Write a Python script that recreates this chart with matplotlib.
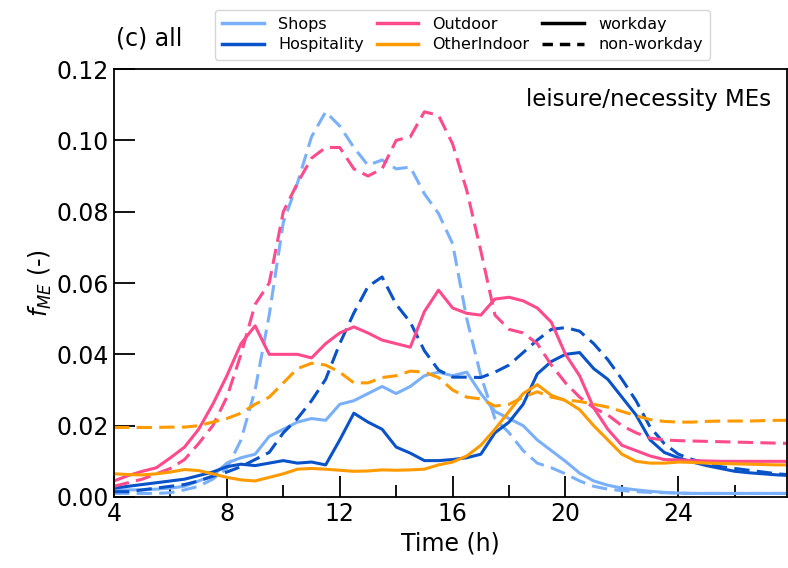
import numpy as np
import matplotlib
matplotlib.use("Agg")
import matplotlib.pyplot as plt
from matplotlib.lines import Line2D
from matplotlib.ticker import MultipleLocator, FormatStrFormatter

# time of day in hours (half-hour steps, 28 = 4 am next day)
time_h = np.arange(4.0, 28.01, 0.5)

shops_workday = [0.002, 0.002, 0.002, 0.0022, 0.0025, 0.003, 0.0045, 0.006, 0.0095, 0.011,
                 0.012, 0.017, 0.019, 0.021, 0.022, 0.0215, 0.026, 0.027, 0.029, 0.031,
                 0.029, 0.031, 0.034, 0.035, 0.034, 0.035, 0.029, 0.024, 0.022, 0.020,
                 0.016, 0.013, 0.010, 0.0067, 0.0045, 0.0033, 0.0025, 0.002, 0.0016, 0.0013,
                 0.0011, 0.001, 0.001, 0.001, 0.001, 0.001, 0.001, 0.001, 0.001]
shops_nonworkday = [0.001, 0.001, 0.001, 0.001, 0.0012, 0.002, 0.003, 0.005, 0.008, 0.016,
                    0.030, 0.051, 0.077, 0.088, 0.101, 0.108, 0.104, 0.098, 0.093, 0.0945,
                    0.092, 0.0925, 0.085, 0.0795, 0.071, 0.050, 0.034, 0.022, 0.018, 0.013,
                    0.0095, 0.0082, 0.0065, 0.0045, 0.003, 0.0022, 0.0018, 0.0015, 0.0013, 0.0012,
                    0.0011, 0.001, 0.001, 0.001, 0.001, 0.001, 0.001, 0.001, 0.001]
hosp_workday = [0.0025, 0.003, 0.0035, 0.004, 0.0045, 0.005, 0.006, 0.007, 0.0085, 0.0092,
                0.0088, 0.0095, 0.0102, 0.0095, 0.0098, 0.009, 0.016, 0.0235, 0.021, 0.019,
                0.014, 0.0123, 0.0102, 0.0102, 0.0105, 0.011, 0.012, 0.018, 0.021, 0.026,
                0.0345, 0.038, 0.040, 0.0405, 0.036, 0.033, 0.028, 0.023, 0.016, 0.0125,
                0.011, 0.0098, 0.0088, 0.008, 0.0072, 0.0068, 0.0065, 0.0062, 0.006]
hosp_nonworkday = [0.0015, 0.0015, 0.002, 0.0025, 0.003, 0.0035, 0.0045, 0.0058, 0.007, 0.0085,
                   0.0105, 0.0125, 0.018, 0.022, 0.027, 0.033, 0.043, 0.0516, 0.059, 0.0617,
                   0.054, 0.049, 0.041, 0.0356, 0.0336, 0.0336, 0.0335, 0.035, 0.037, 0.0405,
                   0.044, 0.047, 0.0475, 0.0465, 0.043, 0.0385, 0.033, 0.027, 0.0196, 0.015,
                   0.012, 0.0105, 0.0095, 0.0085, 0.008, 0.0075, 0.007, 0.0065, 0.0062]
outdoor_workday = [0.0045, 0.006, 0.0072, 0.0082, 0.011, 0.014, 0.019, 0.026, 0.034, 0.043,
                   0.048, 0.040, 0.040, 0.040, 0.039, 0.043, 0.046, 0.0477, 0.046, 0.044,
                   0.043, 0.042, 0.052, 0.058, 0.053, 0.0515, 0.051, 0.0555, 0.056, 0.055,
                   0.053, 0.049, 0.040, 0.034, 0.025, 0.019, 0.0145, 0.013, 0.0115, 0.0105,
                   0.0104, 0.0102, 0.0101, 0.010, 0.010, 0.010, 0.010, 0.010, 0.010]
outdoor_nonworkday = [0.003, 0.004, 0.005, 0.0065, 0.008, 0.0105, 0.015, 0.020, 0.028, 0.040,
                      0.054, 0.060, 0.080, 0.088, 0.095, 0.098, 0.098, 0.092, 0.090, 0.092,
                      0.100, 0.101, 0.108, 0.107, 0.099, 0.086, 0.069, 0.051, 0.047, 0.046,
                      0.043, 0.037, 0.032, 0.028, 0.025, 0.023, 0.020, 0.018, 0.0165, 0.016,
                      0.0158, 0.0157, 0.0156, 0.0155, 0.0154, 0.0153, 0.0152, 0.0151, 0.015]
indoor_workday = [0.0065, 0.0063, 0.0062, 0.0065, 0.007, 0.0077, 0.0074, 0.0065, 0.0055, 0.0048,
                  0.0045, 0.0055, 0.0065, 0.0078, 0.008, 0.0078, 0.0075, 0.0072, 0.0073, 0.0076,
                  0.0075, 0.0076, 0.0078, 0.009, 0.0098, 0.0115, 0.0145, 0.019, 0.024, 0.029,
                  0.0315, 0.0285, 0.027, 0.0245, 0.020, 0.016, 0.012, 0.010, 0.0095, 0.0095,
                  0.0098, 0.0097, 0.0095, 0.0094, 0.0093, 0.0092, 0.0091, 0.009, 0.009]
indoor_nonworkday = [0.0195, 0.0195, 0.0195, 0.0195, 0.0196, 0.0196, 0.020, 0.021, 0.022, 0.0235,
                     0.026, 0.028, 0.032, 0.036, 0.0375, 0.037, 0.035, 0.032, 0.032, 0.0335,
                     0.034, 0.0353, 0.035, 0.0335, 0.030, 0.028, 0.0275, 0.0255, 0.026, 0.028,
                     0.0295, 0.028, 0.0272, 0.0268, 0.026, 0.0252, 0.024, 0.0228, 0.0217, 0.0212,
                     0.021, 0.021, 0.0212, 0.0213, 0.0213, 0.0213, 0.0214, 0.0215, 0.0215]

categories = ["Shops", "Hospitality", "Outdoor", "OtherIndoor"]
colors = {"Shops": "#7ab0fa", "Hospitality": "#0a52c8",
          "Outdoor": "#ff4b8c", "OtherIndoor": "#ff9a00"}
series = {
    "Shops": (shops_workday, shops_nonworkday),
    "Hospitality": (hosp_workday, hosp_nonworkday),
    "Outdoor": (outdoor_workday, outdoor_nonworkday),
    "OtherIndoor": (indoor_workday, indoor_nonworkday),
}

fig = plt.figure(figsize=(7.88, 5.68), dpi=100)
ax = fig.add_axes([0.1447, 0.125, 0.854, 0.7535])

for cat in categories:
    wd, nwd = series[cat]
    ax.plot(time_h, wd, color=colors[cat], lw=2.2, ls="-")
    ax.plot(time_h, nwd, color=colors[cat], lw=2.2, ls=(0, (5, 2.4)))

ax.set_xlim(4, 27.85)
ax.set_ylim(0, 0.12)
ax.xaxis.set_major_locator(MultipleLocator(4))
ax.xaxis.set_minor_locator(MultipleLocator(2))
ax.yaxis.set_major_locator(MultipleLocator(0.02))
ax.yaxis.set_major_formatter(FormatStrFormatter("%.2f"))
ax.tick_params(which="major", direction="in", length=15, width=1.3, labelsize=17)
ax.tick_params(which="minor", direction="in", length=9, width=1.3)
for sp in ax.spines.values():
    sp.set_linewidth(1.3)

ax.set_xlabel("Time (h)", fontsize=17, labelpad=4)
ax.set_ylabel(r"$f_{ME}$ (-)", fontsize=17, labelpad=2)

ax.text(0.977, 0.955, "leisure/necessity MEs", transform=ax.transAxes,
        ha="right", va="top", fontsize=16.5)
fig.text(0.147, 0.932, "(c) all", fontsize=17, ha="left", va="center")

handles = [Line2D([], [], color=colors[c], lw=2.5) for c in categories]
handles += [Line2D([], [], color="black", lw=2.5, ls="-"),
            Line2D([], [], color="black", lw=2.5, ls=(0, (3, 2)))]
labels = categories + ["workday", "non-workday"]
fig.legend(handles, labels, ncol=3, loc="upper center", bbox_to_anchor=(0.587, 0.997),
           fontsize=11.5, frameon=True, handlelength=2.6, columnspacing=0.8,
           handletextpad=0.9, labelspacing=0.35, borderpad=0.45)

fig.savefig("out.png", dpi=100)
